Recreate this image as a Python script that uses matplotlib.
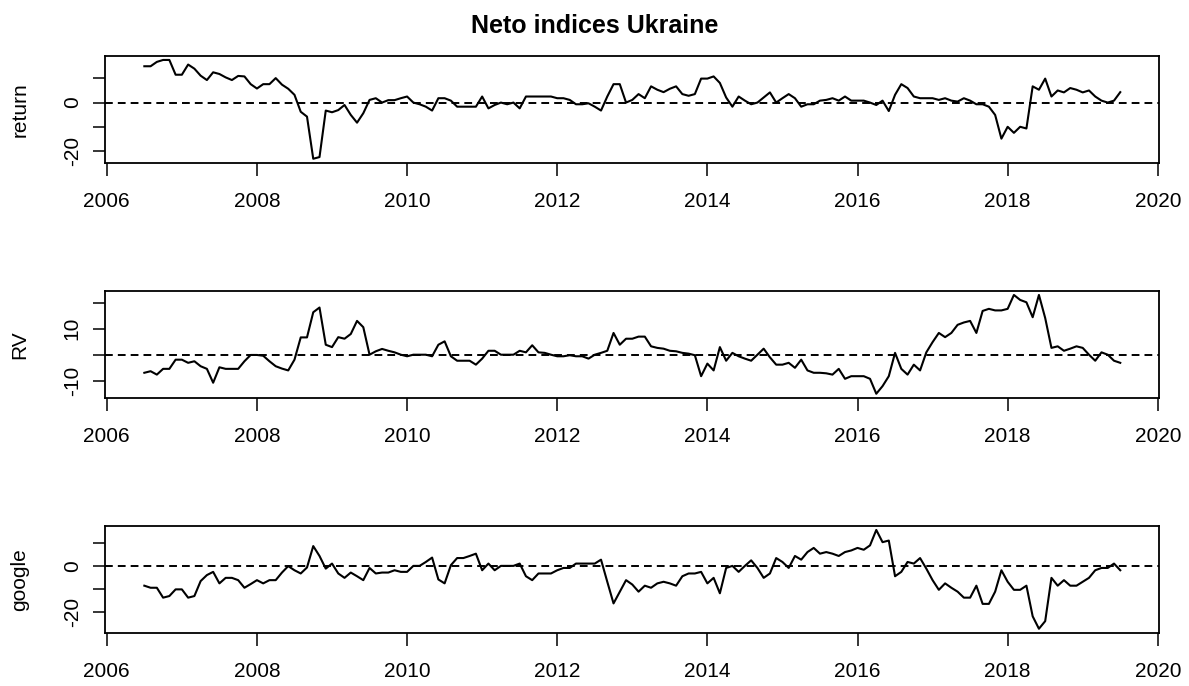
import matplotlib
matplotlib.use('Agg')
import matplotlib.pyplot as plt
import numpy as np

plt.rcParams['font.family'] = ['Liberation Sans', 'DejaVu Sans']

# Monthly series, July 2006 - July 2019
start_year = 2006.5
n_months = 157

ret = [15.0, 15.0, 16.8, 17.6, 17.6, 11.5, 11.5, 15.7, 14.0, 11.1,
       9.3, 12.5, 11.8, 10.4, 9.3, 11.0, 10.8, 7.6, 5.8, 7.6,
       7.6, 10.1, 7.4, 5.7, 3.2, -3.8, -5.8, -23.2, -22.5, -3.3,
       -4.0, -3.1, -1.0, -5.1, -8.3, -4.4, 1.1, 1.8, 0.0, 1.0,
       1.0, 1.8, 2.5, 0.0, -0.7, -1.7, -3.3, 1.8, 1.8, 0.8,
       -1.7, -1.7,
       -1.7, -1.7, 2.5, -2.4, -1.0, 0.0, -0.7, 0.0, -2.4, 2.5,
       2.5, 2.5, 2.5, 2.5, 1.8, 1.8, 1.1, -0.7, -0.7, -0.3,
       -1.7, -3.3, 2.5, 7.6, 7.6, 0.0, 1.1, 3.5, 1.8, 6.7,
       5.3, 4.3, 5.7, 6.7, 3.5, 2.8, 3.5, 9.9, 9.9, 10.8,
       8.1, 2.1, -1.7, 2.5, 0.8, -0.7, 0.0, 2.1, 4.2, 0.0,
       1.8, 3.5, 1.8, -1.7, -0.7, -0.7, 0.8, 1.1,
       1.8, 0.8, 2.5, 0.8, 0.8, 0.8, 0.0, -1.0, 0.8, -3.5,
       3.2, 7.6, 6.0, 2.5, 1.8, 1.8, 1.8, 1.1, 1.8, 0.8,
       0.4, 1.8, 0.8, -0.7, -0.7, -1.7, -5.1, -14.9, -10.0, -12.5,
       -10.0, -10.7, 6.7, 5.3, 9.9, 2.5, 5.0, 4.2, 6.0, 5.3,
       4.2, 5.0, 2.5, 0.8, 0.0, 0.8, 4.3]

rv = [-6.8, -6.2, -7.5, -5.3, -5.3, -1.8, -1.8, -3.0, -2.4, -4.3,
      -5.3, -10.6, -4.7, -5.3, -5.3, -5.3, -2.4, 0.0, 0.0, -0.3,
      -2.4, -4.3, -5.2, -5.9, -1.8, 6.7, 6.7, 16.3, 18.1, 3.9,
      3.0, 6.8, 6.2, 8.0, 13.0, 10.6, 0.1, 1.4, 2.3, 1.6,
      1.0, 0.1, -0.5, 0.1, 0.1, 0.1, -0.5, 3.9, 5.2, -0.5,
      -2.2, -2.2,
      -2.2, -3.7, -1.4, 1.6, 1.6, 0.1, 0.1, 0.1, 1.6, 1.0,
      3.7, 1.0, 0.8, 0.1, -0.5, -0.5, -0.1, -0.5, -0.5, -1.4,
      0.1, 0.8, 1.6, 8.4, 3.9, 6.2, 6.2, 7.0, 7.0, 3.3,
      2.7, 2.4, 1.6, 1.4, 0.8, 0.5, -0.1, -8.1, -3.3, -5.9,
      3.0, -2.2, 0.8, -0.5, -1.4, -2.2, 0.1, 2.4, -0.9, -3.7,
      -3.7, -3.0, -4.9, -1.8, -5.9, -6.8, -6.8, -7.0,
      -7.5, -5.3, -9.1, -8.1, -8.1, -8.1, -9.1, -14.8, -11.9, -8.1,
      0.8, -5.3, -7.5, -3.7, -5.9, 1.0, 4.9, 8.4, 6.8, 8.4,
      11.5, 12.4, 13.0, 8.4, 16.8, 17.6, 17.0, 17.0, 17.6, 22.9,
      21.0, 20.1, 14.4, 22.9, 14.1, 2.7, 3.3, 1.6, 2.4, 3.3,
      2.7, 0.1, -2.2, 1.0, 0.1, -2.2, -3.0]

google = [-8.6, -9.5, -9.5, -13.8, -13.1, -10.2, -10.2, -13.8, -13.1, -6.6,
          -4.0, -2.6, -7.6, -5.2, -5.2, -6.2, -9.5, -7.9, -6.2, -7.6,
          -6.2, -6.2, -2.9, -0.1, -1.9, -3.3, -0.7, 8.6, 4.3, -1.2,
          1.0, -3.3, -5.2, -2.9, -4.5, -6.2, -0.9, -3.3, -2.9, -2.9,
          -1.9, -2.6, -2.6, 0.0, 0.0, 1.7, 3.6, -5.9, -7.6, 0.3,
          3.4, 3.4,
          4.3, 5.3, -1.9, 1.0, -1.9, 0.0, 0.0, 0.0, 1.0, -4.5,
          -6.2, -3.3, -3.3, -3.3, -1.9, -0.9, -0.9, 1.0, 1.0, 1.0,
          1.0, 2.7, -6.9, -16.3, -11.2, -6.2, -8.1, -11.2, -8.6, -9.5,
          -7.6, -6.9, -7.6, -8.6, -4.5, -3.3, -3.3, -2.6, -7.6, -5.2,
          -11.9, -0.9, 0.0, -2.6, 0.0, 2.4, -0.9, -5.2, -3.3, 3.4,
          1.7, -0.9, 4.3, 2.7, 6.0, 7.8, 5.3, 6.0,
          5.3, 4.3, 6.0, 6.7, 7.8, 7.0, 8.9, 15.6, 10.3, 11.0,
          -4.5, -2.6, 1.7, 1.0, 3.4, -1.2, -6.2, -10.4, -7.6, -9.5,
          -11.2, -13.8, -13.8, -8.6, -16.5, -16.5, -11.2, -1.9, -6.9, -10.4,
          -10.4, -8.6, -21.9, -27.3, -24.0, -5.2, -8.6, -6.2, -8.6, -8.6,
          -6.9, -5.2, -1.9, -0.9, -0.9, 1.0, -1.9]

names = ['return', 'RV', 'google']
yticks = [[-20, -10, 0, 10], [-10, 0, 10, 20], [-20, -10, 0, 10]]
ylabels = [['-20', '', '0', ''], ['-10', '', '10', ''], ['-20', '', '0', '']]
xticks = list(range(2006, 2021, 2))

t = start_year + np.arange(n_months) / 12.0

W, H = 1189, 686
fig = plt.figure(figsize=(W / 100, H / 100), dpi=100)

left = 105.3 / W
width = (1159.3 - 105.3) / W
tops = [56, 291, 526]
h_px = 106.7

for series, name, yt, yl, top in zip([ret, rv, google], names, yticks, ylabels, tops):
    ax = fig.add_axes([left, 1 - (top + h_px) / H, width, h_px / H])
    ax.plot(t, series, color='black', lw=1.5)
    ax.margins(x=0.04, y=0.04)
    ax.axhline(0, color='black', lw=1.4, linestyle=(0, (4, 2.6)))
    ax.set_xticks(xticks)
    ax.set_xticklabels([str(x) for x in xticks])
    ax.set_yticks(yt)
    ax.set_yticklabels(yl, rotation=90, va='center')
    ax.tick_params(axis='both', direction='out', length=9, width=1.1,
                   labelsize=15, color='black')
    ax.tick_params(axis='x', pad=12)
    ax.tick_params(axis='y', pad=8)
    for sp in ax.spines.values():
        sp.set_linewidth(1.3)
    ax.text((20 - 105.3) / (1159.3 - 105.3), 0.5, name, rotation=90,
            ha='center', va='center', fontsize=15, transform=ax.transAxes)

fig.text(0.5, 1 - 32.7 / H, 'Neto indices Ukraine', ha='center', va='baseline',
         fontsize=18, fontweight='bold')

fig.savefig('out.png', dpi=100)
